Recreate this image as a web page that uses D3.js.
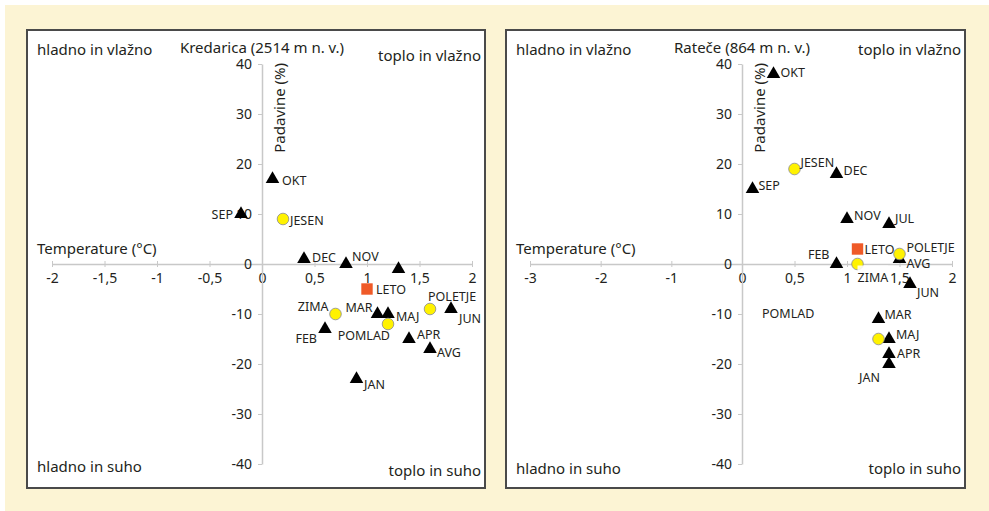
<!DOCTYPE html>
<html>
<head>
  <meta charset="utf-8">
  <title>Kredarica / Rateče</title>
  <script src="https://d3js.org/d3.v7.min.js"></script>
  <style>
    body { margin: 0; background: #fff; }
    text { font-family: "Noto Sans", sans-serif; fill: #231f20; }
  </style>
</head>
<body>
  <script>
    // podatki
    const months = ["JAN", "FEB", "MAR", "APR", "MAJ", "JUN", "JUL", "AVG", "SEP", "OKT", "NOV", "DEC"];
    const seasons = ["ZIMA", "POMLAD", "POLETJE", "JESEN"];
    const yearName = "LETO";

    const kredMonthTemp = [0.9, 0.6, 1.1, 1.4, 1.2, 1.8, 1.3, 1.6, -0.2, 0.1, 0.8, 0.4];
    const kredMonthPrec = [-23, -13, -10, -15, -10, -9, -1, -17, 10, 17, 0, 1];
    const kredSeasonTemp = [0.7, 1.2, 1.6, 0.2];
    const kredSeasonPrec = [-10, -12, -9, 9];
    const kredYear = [1.0, -5];

    const ratMonthTemp = [1.4, 0.9, 1.3, 1.4, 1.4, 1.6, 1.4, 1.5, 0.1, 0.3, 1.0, 0.9];
    const ratMonthPrec = [-20, 0, -11, -18, -15, -4, 8, 1, 15, 38, 9, 18];
    const ratSeasonTemp = [1.1, 1.3, 1.5, 0.5];
    const ratSeasonPrec = [0, -15, 2, 19];
    const ratYear = [1.1, 3];

    const kredXTicks = [-2, -1.5, -1, -0.5, 0, 0.5, 1, 1.5, 2];
    const ratXTicks = [-3, -2, -1, 0, 0.5, 1, 1.5, 2];
    const yTicks = [-40, -30, -20, -10, 0, 10, 20, 30, 40];

    // postavitev oznak: [dx, dy, anchor]
    const kredLabels = {
      JAN: [7.5, 5], FEB: [-8, 9, "end"], MAR: [-5, -7, "end"], APR: [8, -5], MAJ: [8, 2],
      JUN: [8, 9], JUL: null, AVG: [7, 3], SEP: [-8, 0, "end"], OKT: [9.5, 1], NOV: [6, -8], DEC: [8, -2],
      ZIMA: [-7, -8, "end"], POMLAD: [2, 11, "end"], POLETJE: [-2, -13], JESEN: [7, 1], LETO: [9, 0]
    };
    const ratLabels = {
      JAN: [-9, 13, "end"], FEB: [-7, -10, "end"], MAR: [6, -5], APR: [8, -1], MAJ: [7, -5],
      JUN: [7, 8], JUL: [6, -6], AVG: [7, 4], SEP: [6, -4], OKT: [7, -2], NOV: [7, -4], DEC: [7, -4],
      ZIMA: [0, 13, "start", true], POMLAD: [-116.5, -26], POLETJE: [7, -7], JESEN: [6, -7], LETO: [7, 0]
    };

    const W = 989, H = 511;
    const svg = d3.select("body").append("svg")
      .attr("width", W).attr("height", H);

    svg.append("rect").attr("x", 5).attr("y", 5)
      .attr("width", W - 5).attr("height", H - 5)
      .attr("fill", "#fcf4d4");

    const fmt = d => String(d).replace(".", ",");

    function drawPanel(p) {
      const g = svg.append("g");
      g.append("rect").attr("x", p.x0).attr("y", 30)
        .attr("width", p.w).attr("height", 458)
        .attr("fill", "#fff").attr("stroke", "#4a4a4a").attr("stroke-width", 2);

      const x = d3.scaleLinear().domain(p.xDomain).range(p.xRange);
      const y = d3.scaleLinear().domain([-40, 40]).range([464, 64]);
      const x0 = x(0);

      // os x
      const ax = g.append("g").attr("transform", `translate(0,${y(0)})`)
        .call(d3.axisBottom(x).tickValues(p.xTicks).tickFormat(fmt)
          .tickSizeInner(3).tickSizeOuter(0).tickPadding(6));
      ax.selectAll("line").attr("y1", -3).attr("y2", 3);

      // os y
      const ay = g.append("g").attr("transform", `translate(${x0},0)`)
        .call(d3.axisLeft(y).tickValues(yTicks).tickFormat(fmt)
          .tickSizeInner(4).tickSizeOuter(0).tickPadding(6));

      [ax, ay].forEach(a => {
        a.select(".domain").attr("stroke", "#c8c8c8").attr("stroke-width", 1.5);
        a.selectAll(".tick line").attr("stroke", "#c8c8c8");
        a.selectAll(".tick text").attr("font-size", 14).attr("fill", "#231f20")
          .attr("font-family", "'Noto Sans', sans-serif");
      });

      // naslovi
      g.append("text").attr("x", x0).attr("y", 53).attr("text-anchor", "middle")
        .attr("font-size", 15).text(p.title);
      g.append("text").attr("x", p.x0 + 10).attr("y", 254)
        .attr("font-size", 15).text("Temperature (°C)");
      g.append("text").attr("transform", `translate(${x0 + 23},63) rotate(-90)`)
        .attr("text-anchor", "end").attr("font-size", 15).text("Padavine (%)");

      const right = p.x0 + p.w - 4;
      g.append("text").attr("x", p.x0 + 10).attr("y", 55).attr("font-size", 15).text("hladno in vlažno");
      g.append("text").attr("x", right).attr("y", p.topRightY).attr("text-anchor", "end")
        .attr("font-size", 15).text("toplo in vlažno");
      g.append("text").attr("x", p.x0 + 10).attr("y", p.botLeftY).attr("font-size", 15).text("hladno in suho");
      g.append("text").attr("x", right).attr("y", p.botRightY).attr("text-anchor", "end")
        .attr("font-size", 15).text("toplo in suho");

      const mData = months.map((m, i) => ({ name: m, t: p.mTemp[i], v: p.mPrec[i] }));
      const sData = seasons.map((s, i) => ({ name: s, t: p.sTemp[i], v: p.sPrec[i] }));
      const yData = [{ name: yearName, t: p.year[0], v: p.year[1] }];

      g.selectAll("path.tri").data(mData).enter().append("path")
        .attr("class", "tri")
        .attr("d", d3.symbol(d3.symbolTriangle, 80))
        .attr("transform", d => `translate(${x(d.t)},${y(d.v)})`)
        .attr("fill", "#000");

      g.selectAll("circle.season").data(sData).enter().append("circle")
        .attr("class", "season")
        .attr("cx", d => x(d.t)).attr("cy", d => y(d.v)).attr("r", 5.8)
        .attr("fill", "#fff200").attr("stroke", "#8a8a8a").attr("stroke-width", 0.8);

      g.selectAll("rect.year").data(yData).enter().append("rect")
        .attr("class", "year")
        .attr("x", d => x(d.t) - 5.7).attr("y", d => y(d.v) - 5.7)
        .attr("width", 11.4).attr("height", 11.4)
        .attr("fill", "#ef5a28");

      // oznake
      const all = mData.concat(sData, yData).filter(d => p.labels[d.name]);
      all.forEach(d => {
        const [dx, dy, anchor, bg] = p.labels[d.name];
        const tx = x(d.t) + dx, ty = y(d.v) + dy + 4.5;
        const t = g.append("text").attr("x", tx).attr("y", ty)
          .attr("text-anchor", anchor || "start")
          .attr("font-size", 12.5).text(d.name);
        if (bg) {
          const b = t.node().getBBox();
          g.insert("rect", () => t.node())
            .attr("x", b.x).attr("y", b.y - 3).attr("width", b.width).attr("height", b.height + 3)
            .attr("fill", "#fff").attr("opacity", 0.85);
        }
      });
    }

    drawPanel({
      x0: 27, w: 458, title: "Kredarica (2514 m n. v.)",
      xDomain: [-2, 2], xRange: [52, 472], xTicks: kredXTicks,
      mTemp: kredMonthTemp, mPrec: kredMonthPrec,
      sTemp: kredSeasonTemp, sPrec: kredSeasonPrec, year: kredYear,
      labels: kredLabels, topRightY: 61, botLeftY: 472, botRightY: 476
    });

    drawPanel({
      x0: 506, w: 459, title: "Rateče (864 m n. v.)",
      xDomain: [-3, 0, 2], xRange: [530, 742, 952], xTicks: ratXTicks,
      mTemp: ratMonthTemp, mPrec: ratMonthPrec,
      sTemp: ratSeasonTemp, sPrec: ratSeasonPrec, year: ratYear,
      labels: ratLabels, topRightY: 55, botLeftY: 474, botRightY: 474
    });
  </script>
</body>
</html>
